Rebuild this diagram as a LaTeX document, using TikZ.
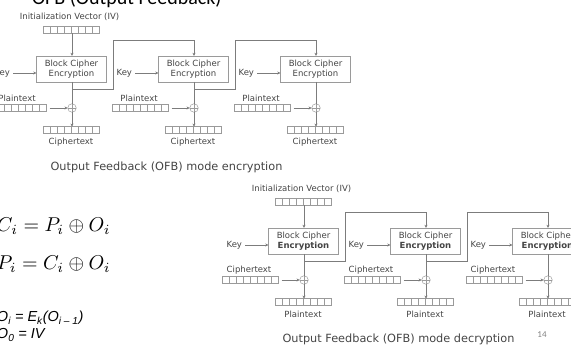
\documentclass[tikz,border=0pt]{standalone}
\usepackage[no-math]{fontspec}
\usepackage{graphicx}
\newfontfamily\dvsans{DejaVu Sans}
\newfontfamily\slidefont{Carlito}
\newfontfamily\arialfont{Liberation Sans}
\usetikzlibrary{arrows.meta}

\definecolor{linegray}{HTML}{7C7C7C}
\definecolor{boxgray}{HTML}{9A9A9A}
\definecolor{textgray}{HTML}{444444}

\tikzset{
  every node/.style={inner sep=0pt, outer sep=0pt},
  lbl/.style={font=\dvsans\fontsize{8.5}{10}\selectfont, text=textgray},
  cipherbox/.style={draw=boxgray, line width=0.6pt, minimum width=70pt,
    minimum height=26pt, align=center, text=textgray,
    font=\dvsans\fontsize{8.5}{10}\selectfont},
  blockrow/.style={draw=boxgray, line width=0.5pt, minimum width=56pt,
    minimum height=6.5pt,
    path picture={\foreach \k in {1,...,7}{
      \draw[boxgray, line width=0.4pt]
        ([xshift=\k*7pt]path picture bounding box.north west) --
        ([xshift=\k*7pt]path picture bounding box.south west);}}},
  xorop/.style={circle, draw=boxgray, line width=0.5pt, minimum size=8.5pt,
    path picture={\draw[boxgray, line width=0.4pt]
      (path picture bounding box.north) -- (path picture bounding box.south)
      (path picture bounding box.east) -- (path picture bounding box.west);}},
  flowarrow/.style={draw=linegray, line width=0.45pt, -{Stealth[length=3.2pt,width=3pt]}},
  wireline/.style={draw=linegray, line width=0.45pt},
  captext/.style={font=\dvsans\fontsize{11.3}{13}\selectfont, text=textgray},
}

% One OFB chain of three stages.
% #1 name prefix, #2/#3 shift, #4 input label, #5 output label,
% #6 second line of the cipher box, #7 caption
\newcommand\ofbchain[7]{%
\begin{scope}[shift={(#2,#3)}]
  \node[lbl] (#1ivlbl) at (69.5,17) {Initialization Vector (IV)};
  \node[blockrow] (#1iv) at (71,30) {};
  \foreach \c in {1,2,3} {
    \pgfmathsetmacro\cx{72+122*(\c-1)}
    \node[cipherbox] (#1blk\c) at (\cx-0.5,69) {Block Cipher\\#6};
    \node[lbl, anchor=east] (#1key\c) at (\cx-62,73) {Key};
    \node[xorop] (#1xor\c) at (\cx,108) {};
    \node[blockrow] (#1in\c) at (\cx-53.5,108) {};
    \node[lbl] (#1inlbl\c) at (\cx-55,98) {#4};
    \node[blockrow] (#1out\c) at (\cx-0.5,130) {};
    \node[lbl] (#1outlbl\c) at (\cx-1,142) {#5};
    \coordinate (#1tap\c) at (\cx,89);
    \coordinate (#1bend\c) at (\cx+41,89);
    \coordinate (#1top\c) at (\cx+41,40);
    \draw[flowarrow] ([xshift=3pt]#1key\c.east) -- (#1key\c.east -| #1blk\c.west);
    \draw[wireline] (#1blk\c.south -| #1xor\c) -- (#1xor\c.north);
    \draw[flowarrow] ([xshift=3pt]#1in\c.east) -- (#1xor\c.west);
    \draw[flowarrow] (#1xor\c.south) -- (#1xor\c.south |- #1out\c.north);
  }
  \draw[flowarrow] (#1iv.south -| #1xor1) -- (#1blk1.north -| #1xor1);
  \draw[flowarrow] (#1tap1) -- (#1bend1) -- (#1top1) -| (#1blk2.north -| #1xor2);
  \draw[flowarrow] (#1tap2) -- (#1bend2) -- (#1top2) -| (#1blk3.north -| #1xor3);
  \node[captext] (#1cap) at (166.5,167) {#7};
\end{scope}}

\begin{document}
\begin{tikzpicture}[x=1pt, y=-1pt]
  \useasboundingbox (0,0) rectangle (571,347);
  \clip (0,0) rectangle (571,347);

  % slide title, mostly above the frame
  \node[anchor=base west, font=\slidefont\fontsize{20}{24}\selectfont]
    (title) at (32,5) {OFB (Output Feedback)};

  \ofbchain{e}{0}{0}{Plaintext}{Ciphertext}{Encryption}
    {Output Feedback (OFB) mode encryption}
  \ofbchain{d}{232}{172}{Ciphertext}{Plaintext}{\bfseries Encryption}
    {Output Feedback (OFB) mode decryption}

  % relations
  \node[anchor=base west] (eqc) at (-3,232)
    {\scalebox{2}{$C_i = P_i \oplus O_i$}};
  \node[anchor=base west] (eqp) at (-3,270)
    {\scalebox{2}{$P_i = C_i \oplus O_i$}};
  \node[anchor=base west, font=\arialfont\itshape\fontsize{14.5}{17}\selectfont]
    (eqo) at (-3,322) {O\textsubscript{i} = E\textsubscript{k}(O\textsubscript{i – 1})};
  \node[anchor=base west, font=\arialfont\itshape\fontsize{14.5}{17}\selectfont]
    (eqz) at (-3,339) {O\textsubscript{0} = IV};

  \node[font=\slidefont\fontsize{9}{10}\selectfont, text=black!50]
    (pageno) at (542,335) {14};
\end{tikzpicture}
\end{document}
